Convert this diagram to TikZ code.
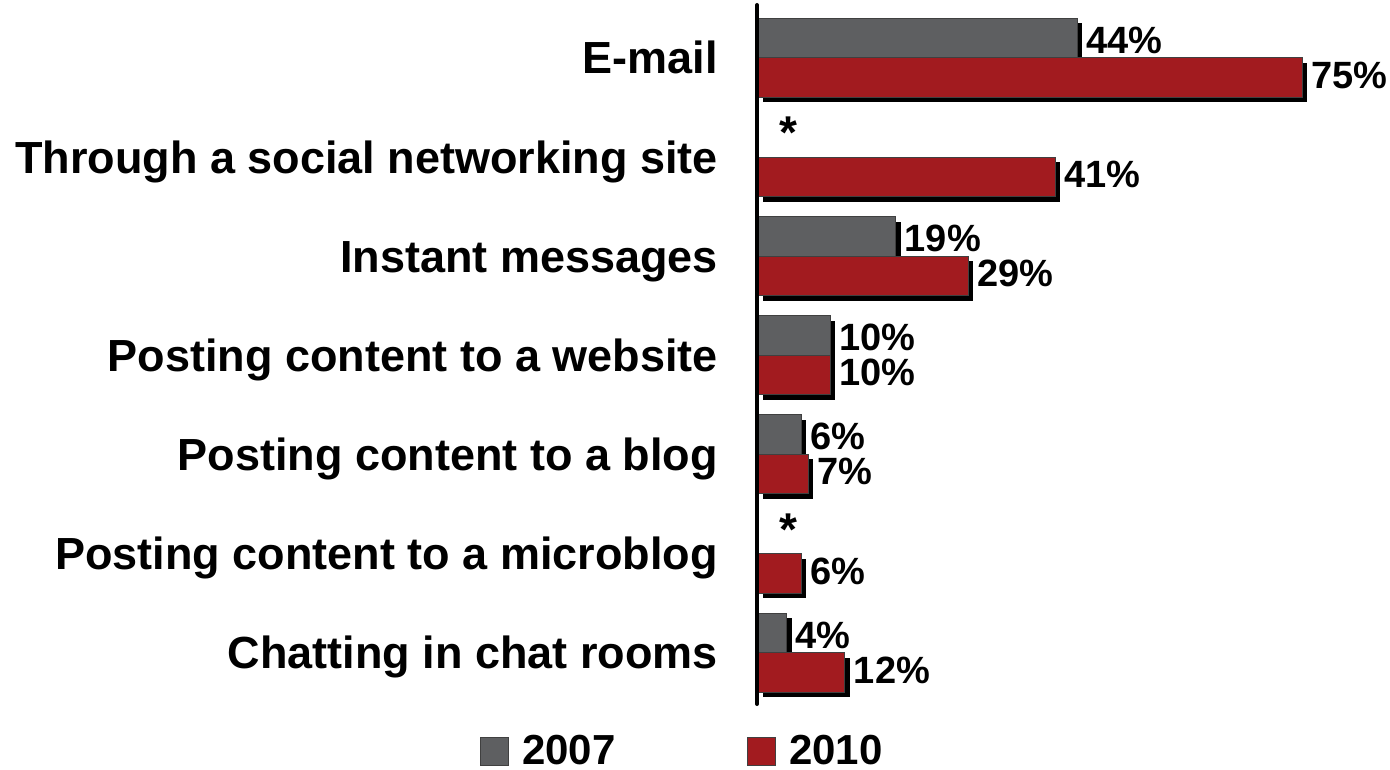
\documentclass[tikz,border=0pt]{standalone}
\usepackage{fontspec}
\setmainfont{Liberation Sans}
\usetikzlibrary{shadows}
\definecolor{bargray}{HTML}{5E5F61}
\definecolor{barred}{HTML}{A21B1F}
\tikzset{
  catlabel/.style={anchor=base east,inner sep=0pt,font=\fontsize{45}{54}\selectfont\bfseries},
  vallabel/.style={anchor=west,inner sep=0pt,font=\fontsize{38}{46}\selectfont\bfseries},
  starlabel/.style={inner sep=0pt,font=\fontsize{46}{54}\selectfont\bfseries},
  keylabel/.style={anchor=base west,inner sep=0pt,font=\fontsize{42}{50}\selectfont\bfseries},
  barshadow/.style={drop shadow={shadow xshift=5pt,shadow yshift=-5pt,fill=black,opacity=1}},
  bar07/.style={fill=bargray,draw=black!75,line width=1pt,barshadow},
  bar10/.style={fill=barred,draw=black!75,line width=1pt,barshadow},
}
\begin{document}
\begin{tikzpicture}[x=1pt,y=-1pt]
  \useasboundingbox (0,0) rectangle (1390,770);

  \foreach \k/\txt/\va/\vb in {0/E-mail/44/75,1/Through a social networking site/0/41,
      2/Instant messages/19/29,3/Posting content to a website/10/10,
      4/Posting content to a blog/6/7,5/Posting content to a microblog/0/6,
      6/Chatting in chat rooms/4/12}{
    \pgfmathsetmacro\gy{58+99.1*\k}
    \node[catlabel] (cat\k) at (718,\gy+16) {\txt};
    \ifnum\va>0
      \draw[bar07] (757.6,\gy-39.5) rectangle (757.6+7.26*\va,\gy);
      \node[vallabel] (old\k) at (757.6+7.26*\va+9,\gy-17.5) {\va\%};
    \else
      \node[starlabel] (star\k) at (788,\gy-24) {*};
    \fi
    \draw[bar10] (757.6,\gy) rectangle (757.6+7.26*\vb,\gy+39.5);
    \node[vallabel] (new\k) at (757.6+7.26*\vb+9,\gy+17.5) {\vb\%};
  }

  % axis
  \draw[line width=4pt,line cap=round] (757,5) -- (757,704);

  % legend
  \node[fill=bargray,draw=black!75,line width=1pt,minimum size=28pt,inner sep=0pt] (key07) at (494.5,751.5) {};
  \node[keylabel] (lab07) at (522,764) {2007};
  \node[fill=barred,draw=black!75,line width=1pt,minimum size=28pt,inner sep=0pt] (key10) at (761.5,751.5) {};
  \node[keylabel] (lab10) at (789,764) {2010};
\end{tikzpicture}
\end{document}
